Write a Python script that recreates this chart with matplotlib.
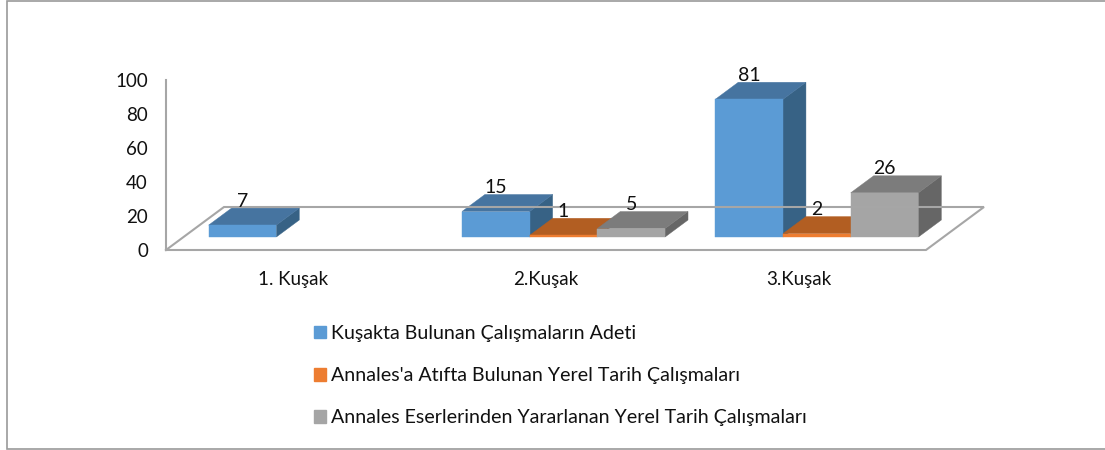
#!/usr/bin/env python3

import matplotlib
matplotlib.use('Agg')
import matplotlib.pyplot as plt
from matplotlib.lines import Line2D
from matplotlib.patches import Patch, Polygon

categories = ['1. Kuşak', '2.Kuşak', '3.Kuşak']
series_names = ['Kuşakta Bulunan Çalışmaların Adeti',
                "Annales'a Atıfta Bulunan Yerel Tarih Çalışmaları",
                'Annales Eserlerinden Yararlanan Yerel Tarih Çalışmaları']
found = [7, 15, 81]
cited = [0, 1, 2]
used = [0, 5, 26]
y_ticks = [0, 20, 40, 60, 80, 100]

front_colors = ['#5B9BD5', '#ED7D31', '#A5A5A5']
top_colors = ['#4674A0', '#B25E22', '#7C7C7C']
side_colors = ['#376285', '#8F4B1B', '#666666']
AXIS_GRAY = '#A6A6A6'
BORDER_GRAY = '#9A9A9A'

W, H = 1105, 450
# floor depth in data units: 58 px across, 43 px up
DX = 58/253.33
DY = 43/1.7
BAR_W = 67.7/253.33
START = 13/43
DEPTH = 17/43

plt.rcParams['font.family'] = ['Lato', 'DejaVu Sans']

fig = plt.figure(figsize=(W/100, H/100), dpi=100, facecolor='white')
ax = fig.add_axes([166/W, (H - 250)/H, (985 - 166)/W, 170/H])
ax.set_xlim(0, 819/253.33)
ax.set_ylim(0, 100)
ax.patch.set_visible(False)

for name in ['top', 'right', 'bottom']:
    ax.spines[name].set_visible(False)
ax.spines['left'].set_color(AXIS_GRAY)
ax.spines['left'].set_linewidth(1.5)

ax.set_yticks(y_ticks)
ax.set_xticks([0.5, 1.5, 2.5])
ax.set_xticklabels(categories)
ax.tick_params(axis='y', length=0, pad=13, labelsize=13.5, labelcolor='#111111')
ax.tick_params(axis='x', length=0, pad=15, labelsize=13.5, labelcolor='#111111')

# floor outline
x_end = 3
ax.plot([0, x_end, x_end + DX, DX, 0], [0, 0, DY, DY, 0], color=AXIS_GRAY,
        lw=1.5, clip_on=False, solid_joinstyle='miter')


def face(points, color):
    ax.add_patch(Polygon(points, closed=True, facecolor=color, edgecolor=color,
                         lw=0.3, clip_on=False))


for c, values in enumerate(zip(found, cited, used)):
    for s, value in enumerate(values):
        if value == 0:
            continue
        x0 = c + 0.5 - 1.5*BAR_W + s*BAR_W + START*DX
        x1 = x0 + BAR_W
        y0 = START*DY
        y1 = y0 + value
        dx = DEPTH*DX
        dy = DEPTH*DY
        face([(x1, y0), (x1 + dx, y0 + dy), (x1 + dx, y1 + dy), (x1, y1)],
             side_colors[s])
        face([(x0, y1), (x1, y1), (x1 + dx, y1 + dy), (x0 + dx, y1 + dy)],
             top_colors[s])
        face([(x0, y0), (x1, y0), (x1, y1), (x0, y1)], front_colors[s])
        ax.annotate(str(value), xy=((x0 + x1)/2, y1 + dy), xytext=(0, 5),
                    textcoords='offset points', ha='center', va='center',
                    fontsize=14, color='#111111', annotation_clip=False)

handles = [Patch(facecolor=col, edgecolor=col) for col in front_colors]
fig.legend(handles, series_names, loc='upper left',
           bbox_to_anchor=(314/W, (H - 325)/H), frameon=False, fontsize=14.1,
           handlelength=0.62, handleheight=0.62, handletextpad=0.26,
           labelspacing=1.28, labelcolor='#111111', borderpad=0,
           borderaxespad=0)

# chart border, open on the right
border_x = [1105/W, 6.5/W, 6.5/W, 1105/W]
border_y = [(H - 0.5)/H, (H - 0.5)/H, 1.0/H, 1.0/H]
fig.add_artist(Line2D(border_x, border_y, color=BORDER_GRAY, lw=1.2,
                      transform=fig.transFigure, solid_joinstyle='miter'))

fig.savefig('out.png', dpi=100)
